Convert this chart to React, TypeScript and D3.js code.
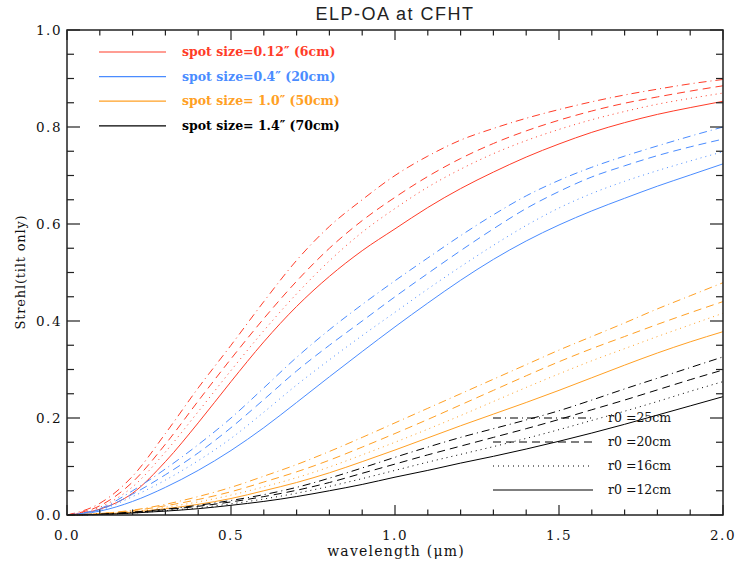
import React from "react";
import * as d3 from "d3";

const wavelengths = [0, 0.1, 0.2, 0.3, 0.4, 0.5, 0.6, 0.7, 0.8, 0.9, 1.0, 1.1, 1.2, 1.3, 1.4, 1.5, 1.6, 1.7, 1.8, 1.9, 2.0];

// spot 0.12" (6cm)
const red25 = [0, 0.024, 0.08, 0.168, 0.262, 0.35, 0.44, 0.525, 0.595, 0.65, 0.7, 0.74, 0.773, 0.797, 0.818, 0.836, 0.852, 0.866, 0.878, 0.889, 0.898];
const red20 = [0, 0.019, 0.068, 0.146, 0.235, 0.322, 0.405, 0.482, 0.55, 0.607, 0.655, 0.698, 0.735, 0.766, 0.792, 0.814, 0.833, 0.849, 0.862, 0.874, 0.885];
const red16 = [0, 0.016, 0.058, 0.13, 0.213, 0.298, 0.38, 0.456, 0.524, 0.583, 0.632, 0.676, 0.713, 0.745, 0.772, 0.795, 0.815, 0.832, 0.847, 0.859, 0.87];
const red12 = [0, 0.012, 0.045, 0.11, 0.19, 0.275, 0.357, 0.43, 0.492, 0.545, 0.59, 0.634, 0.673, 0.707, 0.738, 0.765, 0.789, 0.809, 0.826, 0.84, 0.853];
// spot 0.4" (20cm)
const blue25 = [0, 0.013, 0.05, 0.095, 0.145, 0.2, 0.262, 0.325, 0.382, 0.434, 0.483, 0.53, 0.576, 0.619, 0.658, 0.69, 0.717, 0.74, 0.761, 0.781, 0.8];
const blue20 = [0, 0.011, 0.043, 0.083, 0.128, 0.18, 0.238, 0.297, 0.35, 0.4, 0.45, 0.498, 0.545, 0.59, 0.632, 0.667, 0.697, 0.72, 0.741, 0.759, 0.775];
const blue16 = [0, 0.01, 0.038, 0.072, 0.112, 0.158, 0.212, 0.268, 0.32, 0.37, 0.418, 0.466, 0.512, 0.556, 0.597, 0.633, 0.663, 0.688, 0.71, 0.73, 0.749];
const blue12 = [0, 0.008, 0.028, 0.057, 0.092, 0.133, 0.18, 0.232, 0.285, 0.337, 0.388, 0.437, 0.484, 0.527, 0.565, 0.598, 0.627, 0.653, 0.678, 0.701, 0.724];
// spot 1.0" (50cm)
const orange25 = [0, 0.003, 0.01, 0.022, 0.038, 0.057, 0.08, 0.104, 0.131, 0.16, 0.19, 0.22, 0.25, 0.28, 0.31, 0.34, 0.368, 0.396, 0.425, 0.452, 0.479];
const orange20 = [0, 0.003, 0.009, 0.019, 0.032, 0.048, 0.068, 0.089, 0.113, 0.14, 0.168, 0.197, 0.227, 0.257, 0.287, 0.316, 0.343, 0.368, 0.393, 0.417, 0.44];
const orange16 = [0, 0.002, 0.007, 0.016, 0.027, 0.041, 0.058, 0.077, 0.099, 0.124, 0.15, 0.177, 0.205, 0.234, 0.263, 0.291, 0.318, 0.343, 0.368, 0.392, 0.416];
const orange12 = [0, 0.002, 0.006, 0.013, 0.022, 0.034, 0.05, 0.067, 0.087, 0.11, 0.134, 0.159, 0.184, 0.208, 0.232, 0.257, 0.283, 0.309, 0.334, 0.357, 0.378];
// spot 1.4" (70cm)
const black25 = [0, 0.002, 0.006, 0.012, 0.02, 0.03, 0.042, 0.057, 0.076, 0.097, 0.119, 0.14, 0.16, 0.178, 0.196, 0.215, 0.237, 0.26, 0.282, 0.304, 0.326];
const black20 = [0, 0.001, 0.005, 0.011, 0.018, 0.027, 0.038, 0.051, 0.067, 0.086, 0.105, 0.124, 0.142, 0.16, 0.178, 0.197, 0.217, 0.237, 0.258, 0.279, 0.299];
const black16 = [0, 0.001, 0.004, 0.009, 0.015, 0.023, 0.033, 0.045, 0.059, 0.075, 0.092, 0.109, 0.125, 0.141, 0.158, 0.176, 0.195, 0.214, 0.234, 0.255, 0.275];
const black12 = [0, 0.001, 0.004, 0.008, 0.013, 0.02, 0.028, 0.038, 0.05, 0.063, 0.078, 0.092, 0.107, 0.121, 0.136, 0.152, 0.169, 0.187, 0.206, 0.225, 0.244];

const spotLabels = ["spot size=0.12\u2033 (6cm)", "spot size=0.4\u2033 (20cm)", "spot size= 1.0\u2033 (50cm)", "spot size= 1.4\u2033 (70cm)"];
const spotColors = ["#ff3c28", "#4a8cff", "#ffa024", "#000000"];
const r0Labels = ["r0 =25cm", "r0 =20cm", "r0 =16cm", "r0 =12cm"];
const r0Dashes = ["8 4 1 4", "8 5", "1 4", "none"];

const seriesBySpot = [
  [red25, red20, red16, red12],
  [blue25, blue20, blue16, blue12],
  [orange25, orange20, orange16, orange12],
  [black25, black20, black16, black12],
];

const xMajor = [0, 0.5, 1.0, 1.5, 2.0];
const yMajor = [0, 0.2, 0.4, 0.6, 0.8, 1.0];

export default function App() {
  const L = 67, R = 723, T = 30, B = 515;
  const x = d3.scaleLinear().domain([0, 2]).range([L, R]);
  const y = d3.scaleLinear().domain([0, 1]).range([B, T]);
  const line = d3
    .line<number>()
    .x((_, i) => x(wavelengths[i]))
    .y((d) => y(d))
    .curve(d3.curveMonotoneX);

  const xMinor = d3.range(0, 2.0001, 0.1).filter((v) => !xMajor.some((m) => Math.abs(m - v) < 1e-6));
  const yMinor = d3.range(0, 1.0001, 0.05).filter((v) => !yMajor.some((m) => Math.abs(m - v) < 1e-6));
  const serif = "'DejaVu Serif', serif";
  const axisColor = "#222";

  return (
    <div style={{ position: "absolute", left: 0, top: 0 }}>
      <svg width={735} height={569} style={{ display: "block", background: "#fff" }}>
        {seriesBySpot.map((group, gi) =>
          group.map((vals, si) => (
            <path
              key={`c${gi}-${si}`}
              d={line(vals) || ""}
              fill="none"
              stroke={spotColors[gi]}
              strokeWidth={1}
              strokeDasharray={r0Dashes[si]}
            />
          ))
        )}
        <rect x={L} y={T} width={R - L} height={B - T} fill="none" stroke={axisColor} strokeWidth={1.5} />
        {xMajor.map((v) => (
          <g key={`xm${v}`}>
            <line x1={x(v)} x2={x(v)} y1={B} y2={B - 10} stroke={axisColor} strokeWidth={1.2} />
            <line x1={x(v)} x2={x(v)} y1={T} y2={T + 10} stroke={axisColor} strokeWidth={1.2} />
            <text x={x(v)} y={B + 25} textAnchor="middle" fontFamily={serif} fontSize={13.5} letterSpacing={1.5} fill="#111">
              {v.toFixed(1)}
            </text>
          </g>
        ))}
        {xMinor.map((v) => (
          <g key={`xn${v}`}>
            <line x1={x(v)} x2={x(v)} y1={B} y2={B - 5.5} stroke={axisColor} strokeWidth={1.2} />
            <line x1={x(v)} x2={x(v)} y1={T} y2={T + 5.5} stroke={axisColor} strokeWidth={1.2} />
          </g>
        ))}
        {yMajor.map((v) => (
          <g key={`ym${v}`}>
            <line x1={L} x2={L + 13} y1={y(v)} y2={y(v)} stroke={axisColor} strokeWidth={1.2} />
            <line x1={R} x2={R - 13} y1={y(v)} y2={y(v)} stroke={axisColor} strokeWidth={1.2} />
            <text x={L - 5} y={y(v) + 5} textAnchor="end" fontFamily={serif} fontSize={13.5} letterSpacing={1.5} fill="#111">
              {v.toFixed(1)}
            </text>
          </g>
        ))}
        {yMinor.map((v) => (
          <g key={`yn${v}`}>
            <line x1={L} x2={L + 7} y1={y(v)} y2={y(v)} stroke={axisColor} strokeWidth={1.2} />
            <line x1={R} x2={R - 7} y1={y(v)} y2={y(v)} stroke={axisColor} strokeWidth={1.2} />
          </g>
        ))}
        <text x={395} y={20} textAnchor="middle" fontFamily="'Liberation Sans', Arial, sans-serif" fontSize={18} letterSpacing={1.5} fill="#222">
          ELP-OA at CFHT
        </text>
        <text x={396} y={556} textAnchor="middle" fontFamily={serif} fontSize={14} letterSpacing={1.2} fill="#111">
          wavelength (μm)
        </text>
        <text
          transform={`translate(25, 272) rotate(-90)`}
          textAnchor="middle"
          fontFamily={serif}
          fontSize={13}
          letterSpacing={0.8}
          fill="#111"
        >
          Strehl(tilt only)
        </text>
        {spotLabels.map((lab, i) => {
          const ly = 52 + i * 24.6;
          return (
            <g key={`sl${i}`}>
              <line x1={99} x2={166} y1={ly} y2={ly} stroke={spotColors[i]} strokeWidth={1.2} />
              <text x={182} y={ly + 4} fontFamily={serif} fontWeight="bold" fontSize={12.5} fill={spotColors[i]}>
                {lab}
              </text>
            </g>
          );
        })}
        {r0Labels.map((lab, i) => {
          const ly = 418 + i * 24;
          return (
            <g key={`rl${i}`}>
              <line x1={493} x2={593} y1={ly} y2={ly} stroke="#000" strokeWidth={1.2} strokeDasharray={r0Dashes[i]} />
              <text x={608} y={ly + 4} fontFamily={serif} fontSize={12.5} fill="#111">
                {lab}
              </text>
            </g>
          );
        })}
      </svg>
    </div>
  );
}
